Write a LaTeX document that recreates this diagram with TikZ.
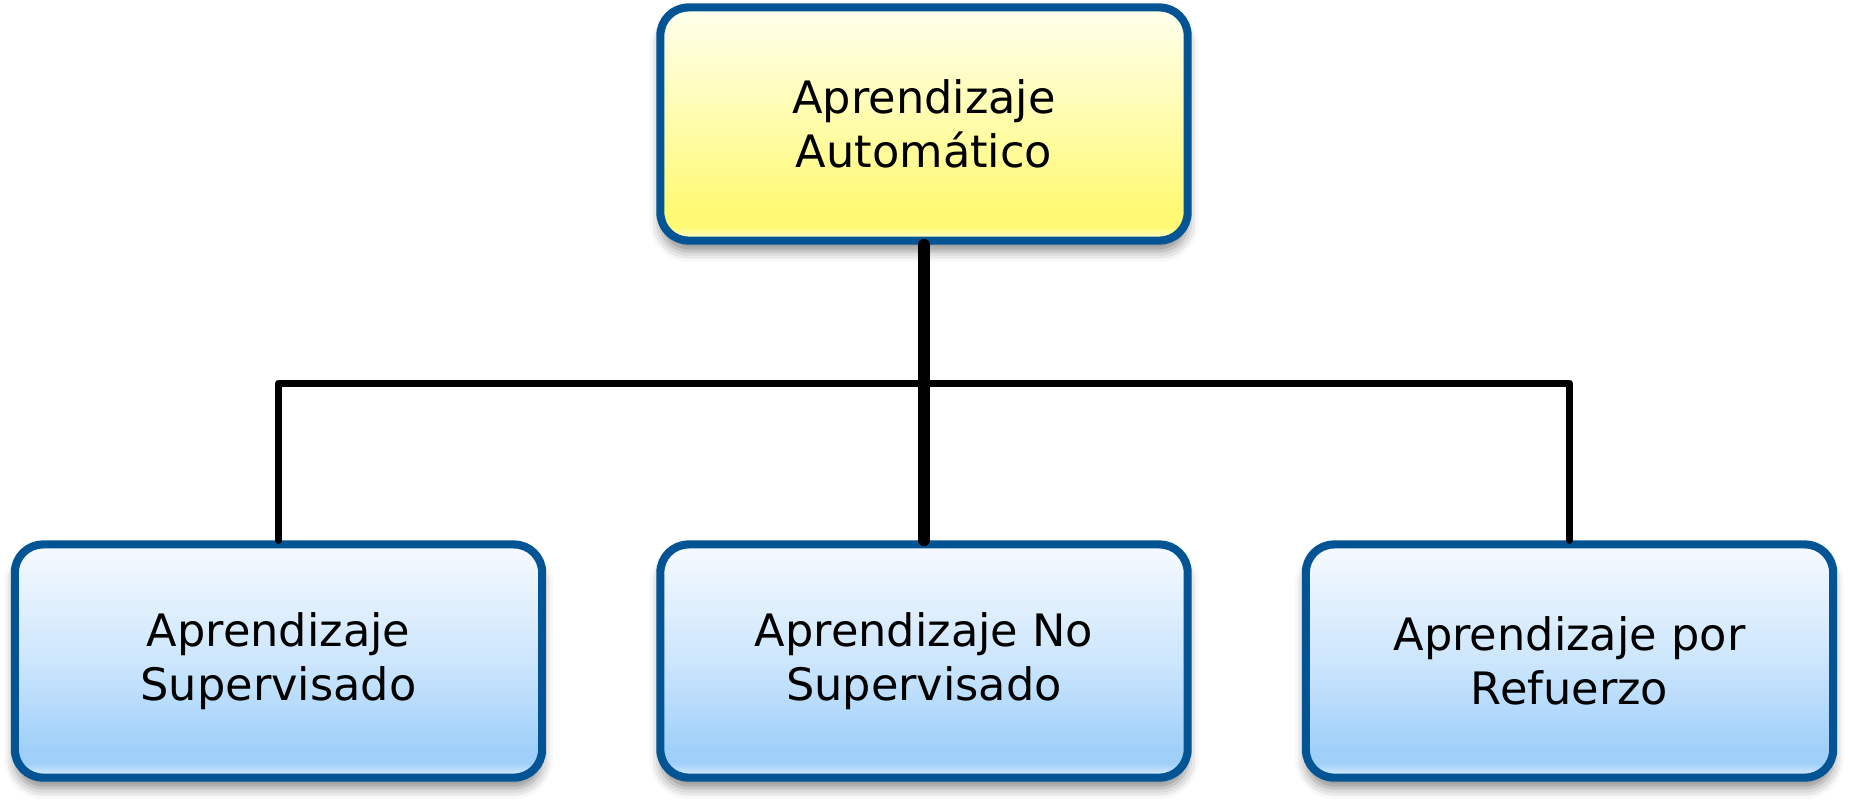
\documentclass[tikz,border=0pt]{standalone}
\usepackage{fontspec}
\setmainfont{DejaVu Sans}
\usetikzlibrary{shadows.blur}

\definecolor{myborder}{RGB}{2,84,148}
\definecolor{ytop}{RGB}{255,255,238}
\definecolor{ymid}{RGB}{255,252,170}
\definecolor{ystrong}{RGB}{255,250,115}
\definecolor{ylow}{RGB}{255,253,222}
\definecolor{btop}{RGB}{246,250,255}
\definecolor{bmid}{RGB}{205,230,252}
\definecolor{bstrong}{RGB}{160,208,250}
\definecolor{blow}{RGB}{228,241,253}

% vertical shadings, bottom (25bp) to top (75bp)
\pgfdeclareverticalshading{rootshade}{100bp}{color(0bp)=(ylow); color(25bp)=(ylow); color(28bp)=(ystrong); color(31bp)=(ystrong); color(50bp)=(ymid); color(75bp)=(ytop); color(100bp)=(ytop)}
\pgfdeclareverticalshading{leafshade}{100bp}{color(0bp)=(blow); color(25bp)=(blow); color(28bp)=(bstrong); color(31bp)=(bstrong); color(50bp)=(bmid); color(75bp)=(btop); color(100bp)=(btop)}

\begin{document}
\begin{tikzpicture}[x=0.01cm, y=-0.01cm,
    box/.style={draw=myborder, line width=2.3pt, rounded corners=8pt,
        minimum width=5.27cm, minimum height=2.33cm, align=center,
        font=\fontsize{12.7}{15.2}\selectfont,
        blur shadow={shadow xshift=0pt, shadow yshift=-3pt, shadow blur radius=3pt, shadow opacity=45}},
    rootbox/.style={box, shade, shading=rootshade},
    leafbox/.style={box, shade, shading=leafshade},
    trunk/.style={line width=3.3pt, line cap=round},
    branch/.style={line width=2pt, line cap=round, line join=round}]

    \useasboundingbox (0,0) rectangle (1849,799);

    \node[rootbox] (root) at (924,124) {Aprendizaje\\Automático};

    \node[leafbox] (sup) at (278.5,661) {Aprendizaje\\Supervisado};
    \node[leafbox] (nosup) at (924,661) {Aprendizaje No\\Supervisado};
    \node[leafbox] (ref) at (1569.5,661) {Aprendizaje por\\Refuerzo};

    \coordinate (bus) at (924,383);
    \draw[branch] (sup.north) |- (bus) -| (ref.north);
    \draw[trunk] (root.south) -- (nosup.north);
\end{tikzpicture}
\end{document}
